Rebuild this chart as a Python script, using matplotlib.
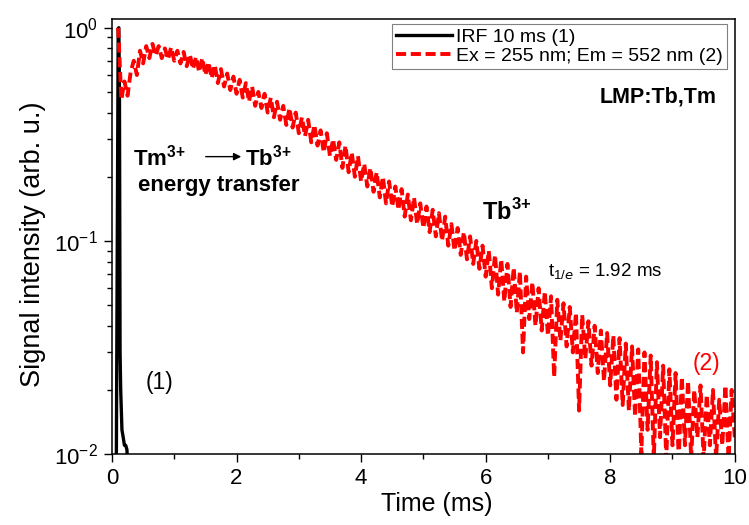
import matplotlib
matplotlib.use("Agg")
import matplotlib.pyplot as plt
import numpy as np
from matplotlib.ticker import LogLocator, MultipleLocator

plt.rcParams["font.family"] = ["Liberation Sans", "DejaVu Sans"]
plt.rcParams["mathtext.fontset"] = "custom"
plt.rcParams["mathtext.rm"] = "Liberation Sans"
plt.rcParams["mathtext.bf"] = "Liberation Sans:bold"
plt.rcParams["axes.unicode_minus"] = False

# IRF (instrument response)
irf_time = [0.00, 0.04, 0.06, 0.10, 0.11, 0.12, 0.13, 0.14, 0.16, 0.18, 0.20, 0.22, 0.24, 0.26, 0.30, 10.0]
irf_signal = [0.001, 0.001, 0.002, 0.99, 1.0, 0.5, 0.03, 0.02, 0.013, 0.012, 0.011, 0.011, 0.0105, 0.008, 0.003, 0.001]

# Tb3+ decay, sampled every 0.05 ms starting at 0.10 ms (one row per ms)
decay_t0 = 0.10
decay_dt = 0.05
decay_signal = [
    1.0, 0.46, 0.56, 0.48, 0.62, 0.70, 0.60, 0.78, 0.68, 0.82,
    0.72, 0.84, 0.74, 0.82, 0.72, 0.80, 0.71, 0.81, 0.70, 0.78,
    0.68, 0.77, 0.66, 0.75, 0.64, 0.73, 0.62, 0.72, 0.60, 0.69,
    0.58, 0.67, 0.55, 0.64, 0.53, 0.61, 0.51, 0.59, 0.49, 0.57,
    0.47, 0.55, 0.45, 0.53, 0.43, 0.50, 0.42, 0.49, 0.40, 0.47,
    0.38, 0.45, 0.37, 0.43, 0.35, 0.42, 0.34, 0.40, 0.32, 0.38,
    0.31, 0.37, 0.29, 0.35, 0.28, 0.33, 0.26, 0.32, 0.25, 0.30,
    0.24, 0.29, 0.22, 0.28, 0.21, 0.26, 0.20, 0.25, 0.19, 0.23,
    0.18, 0.22, 0.17, 0.21, 0.16, 0.20, 0.15, 0.19, 0.145, 0.18,
    0.14, 0.175, 0.13, 0.165, 0.125, 0.16, 0.12, 0.15, 0.115, 0.145,
    0.11, 0.14, 0.105, 0.135, 0.10, 0.13, 0.095, 0.12, 0.09, 0.115,
    0.086, 0.11, 0.082, 0.105, 0.078, 0.10, 0.074, 0.095, 0.068, 0.09,
    0.06, 0.086, 0.056, 0.082, 0.052, 0.078, 0.049, 0.075, 0.046, 0.072,
    0.030, 0.068, 0.043, 0.064, 0.040, 0.060, 0.038, 0.058, 0.036, 0.055,
    0.023, 0.053, 0.034, 0.051, 0.032, 0.049, 0.030, 0.046, 0.016, 0.045,
    0.028, 0.042, 0.026, 0.040, 0.024, 0.038, 0.022, 0.037, 0.021, 0.036,
    0.018, 0.035, 0.017, 0.033, 0.016, 0.032, 0.015, 0.031, 0.010, 0.030,
    0.013, 0.029, 0.0095, 0.027, 0.012, 0.026, 0.0095, 0.025, 0.011, 0.024,
    0.0095, 0.023, 0.011, 0.022, 0.0095, 0.020, 0.012, 0.021, 0.0095, 0.019,
    0.011, 0.020, 0.0095, 0.018, 0.011, 0.021, 0.0095, 0.020, 0.012,
]
decay_time = np.round(decay_t0 + decay_dt * np.arange(len(decay_signal)), 2)

fig = plt.figure(figsize=(7.49, 5.25), dpi=100)
ax = fig.add_subplot(111)
fig.subplots_adjust(left=0.1495, right=0.981, bottom=0.135, top=0.964)

ax.plot(irf_time, irf_signal, color="black", lw=2.4, label="IRF 10 ms (1)")
ax.plot(decay_time, decay_signal, color="red", lw=2.8, ls=(0, (2.6, 1.2)),
        label="Ex = 255 nm; Em = 552 nm (2)")

ax.set_yscale("log")
ax.set_xlim(0, 10)
ax.set_ylim(0.01, 1.10)
ax.xaxis.set_major_locator(MultipleLocator(2))
ax.xaxis.set_minor_locator(MultipleLocator(1))
ax.yaxis.set_major_locator(LogLocator(base=10, numticks=10))
ax.yaxis.set_minor_locator(LogLocator(base=10, subs=np.arange(2, 10), numticks=10))
ax.tick_params(which="major", direction="out", length=6, width=1, labelsize=16, pad=4)
ax.tick_params(which="minor", direction="out", length=3.5, width=1)
for s in ax.spines.values():
    s.set_linewidth(1.1)

ax.set_xlabel("Time (ms)", fontsize=18, labelpad=2, x=0.522)
ax.set_ylabel("Signal intensity (arb. u.)", fontsize=19.5, labelpad=6, y=0.483)

leg = ax.legend(loc="upper right", bbox_to_anchor=(0.987, 0.988), borderaxespad=0,
                fontsize=14, handlelength=2.9, handletextpad=0.2, labelspacing=0.1,
                borderpad=0.2, fancybox=False, framealpha=1)
leg.get_frame().set_edgecolor("gray")
leg.get_frame().set_linewidth(0.8)

ax.text(0.33, 0.245, r"Tm$^{\mathbf{3{+}}}$", fontsize=16, fontweight="bold", va="center")
ax.annotate("", xy=(2.12, 0.2485), xytext=(1.46, 0.2485),
            arrowprops=dict(arrowstyle="-|>", color="black", lw=1, mutation_scale=11))
ax.text(2.14, 0.245, r"Tb$^{\mathbf{3{+}}}$", fontsize=16, fontweight="bold", va="center")
ax.text(0.41, 0.181, "energy transfer", fontsize=16, fontweight="bold", va="center")
ax.text(5.94, 0.137, r"Tb$^{\mathbf{3{+}}}$", fontsize=17, fontweight="bold", va="center")
ax.text(7.0, 0.0715, r"t$_{1/e}$ = 1.92 ms", fontsize=13.5, va="center")
ax.text(0.54, 0.0216, "(1)", fontsize=16.5, va="center")
ax.text(9.32, 0.0267, "(2)", fontsize=16.5, va="center", color="red")
ax.text(9.71, 0.474, "LMP:Tb,Tm", fontsize=15.5, fontweight="bold", va="center", ha="right")

fig.savefig("out.png", dpi=100)
